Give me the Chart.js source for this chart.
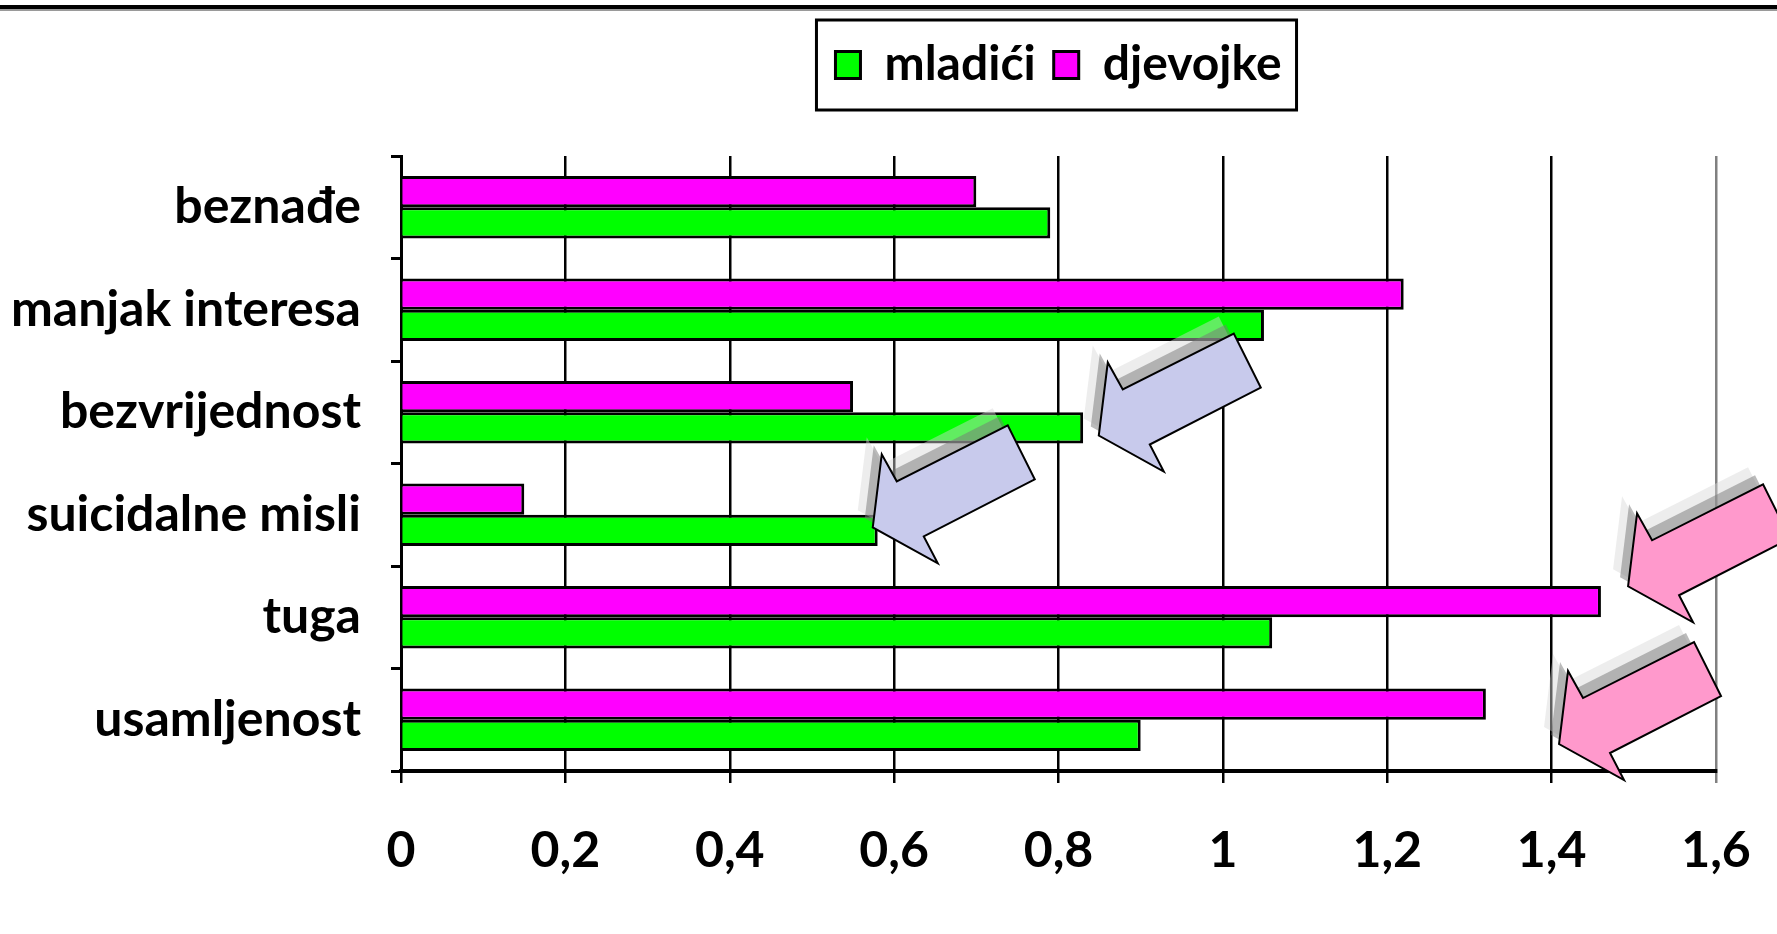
<!DOCTYPE html>
<html>
<head>
<meta charset="utf-8">
<script src="https://cdn.jsdelivr.net/npm/chart.js@4/dist/chart.umd.min.js"></script>
<style>
  html, body { margin: 0; padding: 0; background: #ffffff; }
  #wrap { position: relative; width: 1777px; height: 934px; }
</style>
</head>
<body>
<div id="wrap"><canvas id="c"></canvas></div>
<script>
// ---- data ----
const categories = ['beznađe', 'manjak interesa', 'bezvrijednost', 'suicidalne misli', 'tuga', 'usamljenost'];
const mladici   = [0.79, 1.05, 0.83, 0.58, 1.06, 0.90];
const djevojke  = [0.70, 1.22, 0.55, 0.15, 1.46, 1.32];
const seriesNames = ['mladići', 'djevojke'];
const xTickLabels = ['0', '0,2', '0,4', '0,6', '0,8', '1', '1,2', '1,4', '1,6'];
// callout arrows: tip position in data space (value, category index)
const calloutX = [0.849, 0.574, 1.493, 1.409];
const calloutY = [2.227, 3.123, 3.698, 5.237];
const calloutColor = ['#C8CAEC', '#C8CAEC', '#FF99CC', '#FF99CC'];

// ---- style ----
const FONT = { family: 'Lato', weight: 'bold', size: 50 };
const LEGEND_FONT = { family: 'Lato', weight: 'bold', size: 48 };
const GREEN = '#00FF00', MAGENTA = '#FF00FF';
// arrow outline relative to its tip (px)
const ARROW = [[0,0],[9,-73],[24,-46],[135,-102],[162,-48],[51,9],[65,36]];

const decor = {
  id: 'decor',
  beforeUpdate(chart) {
    const lg = chart.legend;
    if (lg && !lg._pinned) {
      const orig = lg.fit.bind(lg);
      lg.fit = function () { orig(); this.height = 156; };
      lg._pinned = true;
    }
  },
  afterLayout(chart) {
    const lg = chart.legend, ca = chart.chartArea;
    if (!lg) return;
    lg.left = ca.left; lg.right = ca.right;
    lg.top = 23;
  },
  afterDraw(chart) {
    const ctx = chart.ctx;
    const W = chart.width;
    ctx.save();
    // top rule
    ctx.fillStyle = '#000'; ctx.fillRect(0, 5, W, 4);
    ctx.fillStyle = '#9a9a9a'; ctx.fillRect(0, 9, W, 2);
    // legend frame
    const lg = chart.legend;
    if (lg && lg.legendHitBoxes && lg.legendHitBoxes.length) {
      const hb = lg.legendHitBoxes;
      let l = Infinity, r = -Infinity, t = Infinity, b = -Infinity;
      hb.forEach(h => { l = Math.min(l, h.left); r = Math.max(r, h.left + h.width); t = Math.min(t, h.top); b = Math.max(b, h.top + h.height); });
      const cy = (t + b) / 2;
      ctx.lineWidth = 3; ctx.strokeStyle = '#000';
      ctx.strokeRect(l - 19, cy - 45, (r - l) + 34, 90);
    }
    // callout arrows
    const xs = chart.scales.x, ys = chart.scales.y;
    const path = (ox, oy, tx, ty) => {
      ctx.beginPath();
      ARROW.forEach((p, i) => { const px = tx + p[0] + ox, py = ty + p[1] + oy; i ? ctx.lineTo(px, py) : ctx.moveTo(px, py); });
      ctx.closePath();
    };
    calloutX.forEach((v, i) => {
      const tx = xs.getPixelForValue(v), ty = ys.getPixelForValue(calloutY[i]);
      path(-15, -17, tx, ty); ctx.fillStyle = 'rgba(215,215,215,0.45)'; ctx.fill();
      path(-8, -9, tx, ty); ctx.fillStyle = 'rgba(120,120,120,0.5)'; ctx.fill();
      path(0, 0, tx, ty); ctx.fillStyle = calloutColor[i]; ctx.fill();
      ctx.lineWidth = 2; ctx.strokeStyle = '#000'; ctx.lineJoin = 'miter'; ctx.stroke();
    });
    ctx.restore();
  }
};

function build() {
  Chart.defaults.font.family = 'Lato';
  new Chart(document.getElementById('c'), {
    type: 'bar',
    data: {
      labels: categories,
      datasets: [
        { label: seriesNames[1], data: djevojke, backgroundColor: MAGENTA, borderColor: '#000', borderWidth: 3,
          categoryPercentage: 0.61, barPercentage: 1.0 },
        { label: seriesNames[0], data: mladici, backgroundColor: GREEN, borderColor: '#000', borderWidth: 3,
          categoryPercentage: 0.61, barPercentage: 1.0 }
      ]
    },
    options: {
      indexAxis: 'y',
      responsive: true,
      maintainAspectRatio: false,
      animation: false,
      layout: { padding: { left: 0, right: 61, top: 0, bottom: 0 } },
      plugins: {
        tooltip: { enabled: false },
        legend: {
          position: 'top',
          labels: {
            font: LEGEND_FONT, color: '#000', boxWidth: 25, boxHeight: 27, padding: 18,
            sort: (a, b) => b.datasetIndex - a.datasetIndex
          }
        }
      },
      scales: {
        x: {
          type: 'linear', min: 0, max: 1.6,
          ticks: { stepSize: 0.2, color: '#000', font: FONT, padding: 38, maxRotation: 0,
                   callback: (v, i) => xTickLabels[i] },
          grid: { color: c => (c.tick && Math.abs(c.tick.value - 1.6) < 1e-6) ? '#808080' : '#000',
                  lineWidth: 2.5, tickLength: 12, drawTicks: true },
          border: { color: '#000', width: 4 },
          afterFit: s => { s.height = 163; s.paddingLeft = 0; s.paddingRight = 0; }
        },
        y: {
          type: 'category',
          ticks: { color: '#000', font: FONT, padding: 30, autoSkip: false },
          grid: { drawOnChartArea: false, drawTicks: true, tickLength: 10, lineWidth: 3, color: '#000', offset: true },
          border: { color: '#000', width: 3 },
          afterFit: s => { s.width = 401; s.paddingTop = 0; s.paddingBottom = 0; }
        }
      }
    },
    plugins: [decor]
  });
}
if (document.fonts && document.fonts.load) {
  document.fonts.load('bold 50px Lato').then(build, build);
} else { build(); }
</script>
</body>
</html>
